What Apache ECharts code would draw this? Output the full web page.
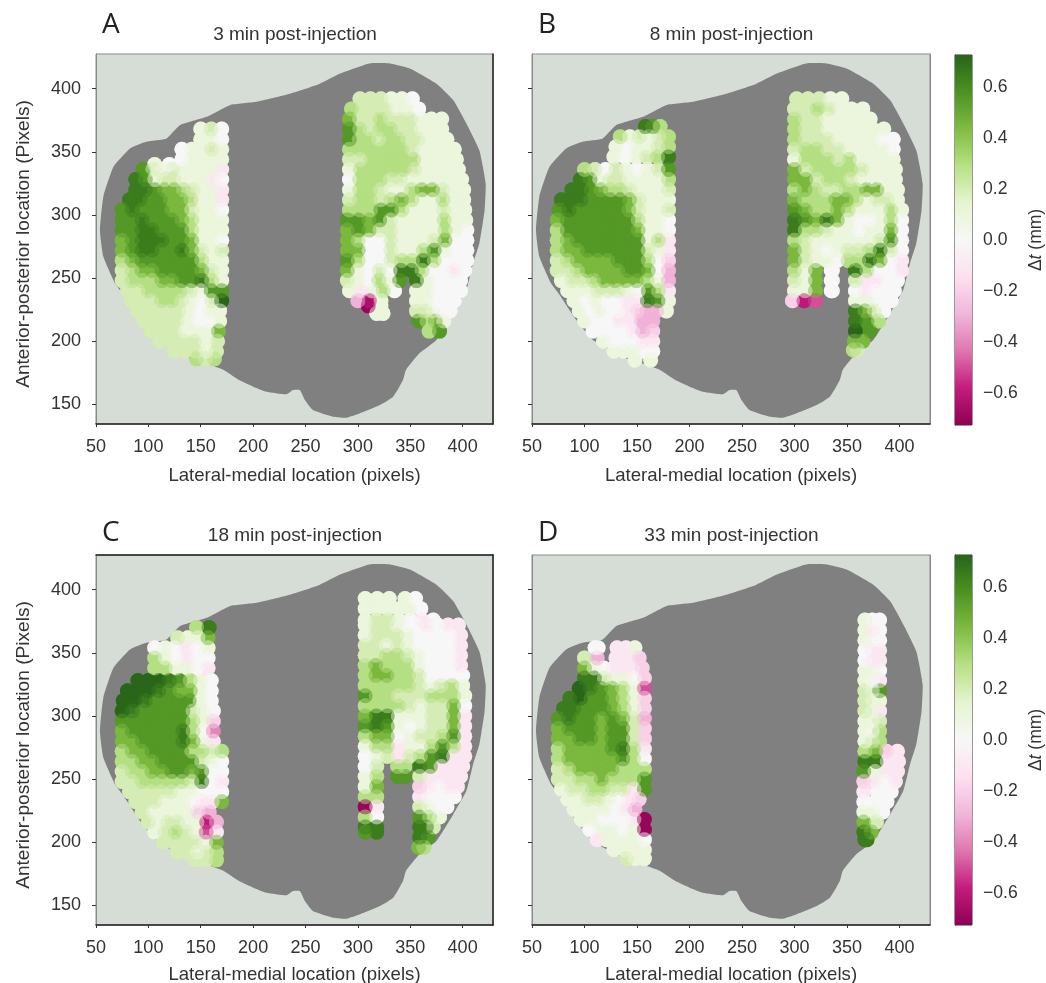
<!DOCTYPE html>
<html><head><meta charset="utf-8">
<style>html,body{margin:0;padding:0;background:#fff}#c{width:1046px;height:983px}</style>
<script src="https://cdn.jsdelivr.net/npm/echarts@6/dist/echarts.min.js"></script>
</head><body><div id="c"></div>
<script>
// Tick labels and titles
const xTicks = [50,100,150,200,250,300,350,400];
const yTicks = [150,200,250,300,350,400];
const barTicks = [-0.6,-0.4,-0.2,0,0.2,0.4,0.6];
const titles = ['3 min post-injection','8 min post-injection','18 min post-injection','33 min post-injection'];
const letters = ['A','B','C','D'];
const piyg = ['#8e0152','#c51b7d','#de77ae','#f1b6da','#fde0ef','#f7f7f7','#e6f5d0','#b8e186','#7fbc41','#4d9221','#276419'];
// Reading levels used in the rows below, from colour to mm (index 0 is level 0)
const greenLevelMm = [0,0.1,0.2,0.3,0.45,0.56,0.65,0.72];
const pinkLevelMm = [0,-0.1,-0.2,-0.3,-0.4,-0.5,-0.6,-0.7];

// Scanned outline of the head (lateral-medial, anterior-posterior)
const outline = [[263.7,404],[283,412],[311,420],[330.5,420],[349.6,416],[375,404],[391,391],[403.6,372.4],[416,351],[422,325],[421,304],[416,277.6],[410,261.8],[403.6,240.7],[391,222],[375,201],[359,190.6],[346,177.4],[343,169],[333.7,156],[321,149.4],[302,142.9],[289,139.4],[276.4,140.2],[257,145.5],[249.4,153.4],[244.6,161.3],[238,161.3],[232,158],[212.8,160],[200,164],[187,169],[171.5,177.4],[160,181],[140,186],[108,201],[92,217],[76,237],[68,246],[57,267],[53.8,288],[57,314.5],[66.6,338],[82.5,352.7],[98,358],[117.4,360.6],[130,371],[155.6,377.7],[177.9,387],[203.3,389.6],[235,396]];

// Thickness change rows: [y, first x, last x, reading levels]
const aLeft = [
[368,150,170,[1,2,0]],[360,150,170,[1,1,0]],[352,132,170,[0,1,1,2,1]],[344,132,170,[0,1,1,1,1]],[340,106,120,[1,0]],
[336,95,170,[5,2,1,2,1,1,1,1,-1]],[328,88,170,[6,5,1,2,2,1,1,1,-1,0]],[320,88,170,[6,6,5,4,4,3,2,1,1,-1]],[312,82,170,[6,6,5,5,4,4,3,1,1,-1]],
[304,75,170,[5,6,5,5,5,4,4,2,1,1,0]],[296,75,170,[5,5,6,5,5,5,4,3,1,1,1]],[288,75,170,[5,5,6,6,5,5,5,3,1,1,1]],[280,75,170,[4,5,6,6,6,5,5,4,1,1,0]],
[272,75,170,[4,5,6,6,5,5,6,4,2,1,2]],[264,75,170,[3,4,5,5,5,5,5,5,3,1,1]],[256,75,170,[2,3,4,4,5,5,5,5,4,2,1]],[248,75,170,[2,3,3,3,4,4,5,5,6,3,1]],
[240,80,170,[2,2,3,3,3,3,2,1,5,5]],[232,84,170,[2,2,2,3,3,2,1,0,2,7]],[224,90,168,[2,2,2,2,2,1,0,1,1]],[216,96,168,[2,2,2,2,1,0,0,1]],
[208,103,167,[2,2,2,1,1,1,4]],[200,111,166,[2,2,2,2,1,2]],[192,125,165,[2,2,2,1,2]],[186,146,163,[3,2,3]]
];
const aRight = [
[392,302,352,[2,2,2,1,1,0]],[384,294,358,[3,2,2,2,1,1,0]],[376,292,380,[4,2,2,3,2,2,2,1,1,1]],[368,292,380,[5,3,2,3,3,2,2,1,1,1]],
[360,292,385,[5,3,3,2,3,3,2,2,1,1,1]],[352,292,392,[3,3,3,3,3,3,2,1,1,1,1]],[344,292,394,[2,2,3,3,3,3,3,1,1,1,1]],[336,292,396,[1,3,3,3,3,3,2,1,1,1,1]],
[328,292,399,[0,3,3,3,2,2,1,1,1,1,1,1]],[320,292,401,[1,3,3,2,1,1,3,4,4,2,1,1]],[312,292,401,[2,3,3,2,3,4,3,1,1,3,1,1]],[304,292,402,[3,3,3,5,5,3,1,1,1,2,1,1]],
[296,290,403,[5,5,4,5,2,1,1,1,1,3,1,1]],[288,290,404,[4,5,4,2,2,1,1,1,1,3,1,0]],[280,290,404,[4,3,0,0,2,1,1,1,2,4,0,0]],[272,290,404,[4,4,0,0,2,1,1,3,5,1,0,0]],
[264,290,404,[5,3,0,0,2,3,3,6,3,0,0,0]],[256,290,402,[4,1,0,2,0,6,6,3,0,0,-1,0]],[248,290,340,[2,1,0,3,1,5]],[248,356,398,[6,1,0,0,0]],
[240,292,335,[1,-1,1,3,0]],[240,356,398,[1,1,0,0,0]],[232,300,322,[-3,-6,1]],[232,356,392,[1,1,0,0,0]],[228,310,322,[-7,1]],[224,356,388,[2,2,1,0,0]],
[222,318,324,[1,1]],[216,358,382,[5,3,4,1]],[208,368,378,[3,5]]
];
const bLeft = [
[370,158,172,[6,5,3]],[362,134,180,[3,1,2,1,2,3]],[354,130,180,[1,0,1,1,2,3]],[346,128,180,[1,0,1,2,3,6]],[336,100,180,[3,2,0,2,1,0,1,2,5]],
[328,96,180,[6,5,1,2,2,1,1,1,1,3]],[320,88,180,[6,6,5,4,3,3,2,1,1,1,2]],[312,78,180,[6,6,6,5,5,5,5,4,2,1,1,1]],[304,76,180,[5,6,5,5,5,5,5,4,2,1,1,2]],
[296,74,180,[4,5,5,5,5,5,5,5,3,1,1,0]],[288,74,180,[3,5,5,5,5,5,5,5,4,1,1,0]],[280,74,180,[3,4,5,5,5,5,5,5,5,1,3,-1]],[272,74,180,[3,4,4,5,5,5,5,5,5,2,1,-1]],
[264,74,180,[2,3,4,4,4,4,5,5,5,3,0,-2]],[256,74,180,[2,2,3,4,4,4,4,5,5,4,0,-3]],[248,78,180,[1,2,2,3,4,4,4,4,3,1,-3]],[240,84,180,[1,1,1,2,2,2,1,0,5,3,-1]],
[232,90,180,[1,0,1,0,0,-1,-1,6,5,1]],[224,95,178,[1,0,1,0,0,-1,-2,-3,-3,1]],[216,100,165,[1,0,0,-1,-1,-3,-3]],[208,108,165,[0,0,0,0,-1,-3,-2]],
[200,118,165,[1,0,0,0,-1,-1]],[192,128,165,[1,1,1,0,0]],[185,148,163,[1,1]]
];
const bRight = [
[392,302,345,[2,2,2,1,1]],[384,300,365,[2,2,3,2,1,1,1]],[376,300,372,[3,2,2,1,1,1,1,1]],[368,300,385,[3,2,2,1,1,1,1,1,1]],[360,300,394,[3,2,2,2,1,1,1,1,0,0]],
[352,300,394,[2,3,3,2,2,1,1,1,1,0]],[344,300,394,[1,3,3,3,2,3,1,1,1,1]],[336,300,396,[4,2,3,3,3,3,2,1,1,1]],[328,300,396,[4,4,2,3,3,2,1,1,1,1]],
[320,300,398,[3,4,3,2,2,3,3,4,4,1,1]],[312,300,398,[4,3,3,3,4,4,3,1,2,2,1]],[304,300,402,[5,4,3,3,4,3,1,1,1,3,1]],[296,300,402,[6,5,4,6,4,1,0,0,1,3,0]],
[288,300,402,[6,3,3,2,1,1,0,1,1,4,0]],[280,300,402,[3,2,1,1,1,1,1,1,2,5,0]],[272,300,402,[4,2,1,0,1,2,2,3,6,2,0]],[264,300,402,[4,2,1,1,0,3,3,6,4,0,-1]],
[256,300,320,[3,1,4]],[256,335,336,[0,0]],[256,358,402,[6,3,0,0,-1]],[248,300,320,[2,1,4]],[248,335,336,[0,0]],[248,358,398,[2,-1,-1,0,0]],
[240,300,320,[1,1,4]],[240,335,336,[0,0]],[240,358,395,[0,-1,0,0,0]],[232,298,320,[-2,-6,-5]],[232,358,392,[1,1,0,0]],[224,358,385,[6,4,2,0]],
[216,358,380,[6,5,3]],[208,358,372,[7,5]],[200,357,365,[4,4]],[193,356,360,[3,2]]
];
const cLeft = [
[370,146,158,[3,6]],[362,128,157,[2,1,1,4]],[354,106,116,[0,1]],[354,125,157,[0,-1,0,1]],[346,106,157,[3,1,0,-1,0,0]],[338,106,157,[3,3,1,1,0,-1]],
[328,90,160,[7,7,7,6,5,3,1,0]],[320,80,160,[7,7,7,6,5,4,4,1,0]],[312,76,160,[7,7,6,5,5,5,5,1,0]],[304,75,162,[7,6,5,5,5,5,5,2,1,0]],
[296,75,162,[5,5,5,5,5,5,5,3,1,-2]],[288,75,162,[4,5,5,5,5,5,6,3,0,-4]],[280,75,162,[4,4,5,5,5,5,6,4,1,-1]],[272,75,170,[3,4,4,5,5,5,5,3,3,2,3]],
[264,75,170,[3,3,4,4,5,5,5,5,2,1,0]],[256,75,170,[2,3,3,4,4,5,5,4,5,0,0]],[248,75,170,[2,2,3,3,3,3,3,2,6,0,-1]],[240,82,170,[2,2,2,2,2,1,1,0,0,0]],
[232,88,170,[2,2,2,1,1,1,0,-1,-1,4]],[224,94,158,[2,1,1,1,1,-2,-3]],[216,100,165,[2,1,2,2,1,1,-6,-3]],[208,106,165,[1,2,3,2,1,-5,-1]],
[200,114,165,[2,2,2,2,1,4]],[192,128,165,[2,2,1,2,3]],[186,145,165,[2,2,3]]
];
const cRight = [
[393,307,330,[1,1,1]],[393,345,355,[1,0]],[385,307,360,[1,1,1,1,1,0]],[376,307,372,[1,2,2,1,0,-1,0]],[372,307,396,[1,2,2,1,0,0,-1,0,-1,-1]],
[364,307,398,[1,2,2,2,1,0,0,0,0,-1]],[356,307,398,[2,2,1,2,1,0,0,0,0,-1]],[348,307,398,[2,2,3,3,2,1,0,0,0,-1]],[340,307,398,[3,4,3,3,3,1,0,0,0,-1]],
[332,307,400,[3,4,4,3,3,2,0,0,0,0]],[324,307,400,[3,3,3,3,3,2,1,2,3,1]],[316,307,402,[5,3,3,2,2,2,3,3,3,1]],[308,307,402,[3,3,3,3,2,1,2,2,4,0]],
[300,307,402,[4,6,6,1,1,1,2,2,4,-1]],[292,307,402,[5,6,5,1,0,1,2,2,4,-1]],[284,307,402,[3,4,4,0,1,2,2,3,5,-1]],[276,307,402,[1,3,3,-1,1,1,3,5,3,-1]],
[268,307,402,[0,1,2,-1,2,3,5,6,-1,-1]],[260,307,318,[0,2]],[260,338,345,[3,3]],[260,359,400,[6,5,-1,-1,-1]],[252,307,318,[1,3]],[252,338,345,[5,5]],
[252,359,398,[2,-1,-1,-1,-1]],[244,307,318,[1,4]],[244,359,395,[-2,-1,0,-1,-1]],[236,307,318,[3,3]],[236,359,392,[-1,0,0,0,0]],[228,307,318,[-7,-1]],
[228,359,385,[2,1,0,0]],[220,307,318,[3,0]],[220,359,378,[5,3,1]],[212,307,318,[6,6]],[212,359,372,[6,6,2]],[208,307,318,[5,6]],[204,359,367,[6,5]],[196,358,363,[4,3]]
];
const dLeft = [
[354,110,113,[0,0]],[354,131,148,[-1,-1,1]],[346,100,112,[2,-3]],[346,130,152,[-1,-1,-2]],[338,100,155,[4,1,0,-1,-1,-1,-2]],[330,100,157,[6,6,2,1,1,0,-2]],
[322,95,157,[7,6,5,4,3,1,-5]],[314,86,157,[6,7,5,5,4,3,1,-2]],[306,80,157,[6,6,5,5,5,4,3,1,-2]],[298,75,157,[5,6,5,5,4,5,4,2,-3]],[290,75,157,[4,5,5,5,4,5,5,2,-2]],
[282,75,157,[4,4,5,5,4,5,5,2,-2]],[274,75,157,[3,4,4,4,4,5,6,3,-1]],[266,75,157,[3,4,4,4,4,4,5,3,0]],[258,75,157,[2,3,4,4,4,4,3,3,3]],[250,75,157,[2,2,3,3,4,3,3,3,5]],
[242,78,157,[1,2,2,3,3,2,2,-1,5]],[234,84,152,[1,1,2,2,1,0,-1,-2]],[226,90,148,[1,1,1,1,0,-1,-3]],[218,97,157,[1,1,0,0,0,-1,-7]],[210,105,157,[0,1,1,0,1,-7]],
[202,112,157,[-1,1,1,1,1,0]],[194,128,157,[1,1,1,1]],[187,140,157,[2,1,1]]
];
const dRight = [
[376,367,381,[1,0,0]],[368,367,381,[1,-1,0]],[360,367,381,[1,0,0]],[352,367,381,[0,-1,-1]],[344,367,381,[0,-1,-1]],[336,367,381,[1,1,0]],[328,367,381,[1,0,-1]],
[320,367,381,[2,1,5]],[312,367,381,[2,1,1]],[304,367,381,[2,1,-1]],[296,367,381,[1,1,2]],[288,367,381,[1,0,3]],[280,367,381,[1,2,3]],[272,367,398,[3,4,-2,-1]],
[264,367,399,[6,6,-1,-1]],[256,366,398,[5,1,-1,-1]],[248,366,396,[-2,-1,0,-1]],[240,366,392,[-1,0,0]],[232,366,388,[0,0,0]],[224,366,384,[1,1,0]],
[216,366,378,[4,2]],[208,366,373,[6,4]],[202,367,369,[6,6]]
];
const panelRows = [[aLeft,aRight],[bLeft,bRight],[cLeft,cRight],[dLeft,dRight]];

const levelToMm = v => v>=0 ? greenLevelMm[v] : pinkLevelMm[-v];
const toPoints = rows => rows.flatMap(([y,x0,x1,vals]) => vals.map((v,i)=>[x0+i*(x1-x0)/Math.max(1,vals.length-1),y,levelToMm(v)]));

const FONT='Liberation Sans', TXT='#333';
const panels=[{l:96,t:54,w:397,h:370},{l:532,t:54,w:398,h:370},{l:96,t:555,w:397,h:370},{l:532,t:555,w:398,h:370}];
const bars=[{l:955,t:55,w:17,h:370},{l:955,t:555,w:17,h:370}];
const grid=[],xAxis=[],yAxis=[],series=[],title=[],scatterIdx=[];
panels.forEach((p,i)=>{
  grid.push({left:p.l,top:p.t,width:p.w,height:p.h,outerBoundsMode:'none',show:true,backgroundColor:'#d6dcd6',borderColor:'#8a8a8a',borderWidth:1});
  const labelled=i%2===0, darkRight=labelled;
  xAxis.push({type:'value',gridIndex:i,min:50,max:429,splitLine:{show:false},
    name:'Lateral-medial location (pixels)',nameLocation:'middle',nameGap:i<2?42:40,
    nameTextStyle:{fontFamily:FONT,fontSize:18.6,color:TXT},
    axisLine:{show:true,onZero:false,lineStyle:{color:'#222',width:1.5}},
    axisTick:{show:true,length:3,customValues:xTicks,lineStyle:{color:'#333'}},
    axisLabel:{customValues:xTicks,fontFamily:FONT,fontSize:18,color:TXT,margin:14}});
  yAxis.push({type:'value',gridIndex:i,min:134.4,max:427.5,splitLine:{show:false},
    name:labelled?'Anterior-posterior location (Pixels)':'',nameLocation:'middle',nameGap:63,
    nameTextStyle:{fontFamily:FONT,fontSize:19.1,color:TXT,padding:[0,10,0,0]},
    axisLine:{show:true,onZero:false,lineStyle:{color:'#8a8a8a',width:1}},
    axisTick:{show:true,length:4,customValues:yTicks,lineStyle:{color:'#333'}},
    axisLabel:{show:labelled,customValues:yTicks,fontFamily:FONT,fontSize:18,color:TXT,margin:15}});
  yAxis.push({type:'value',gridIndex:i,position:'right',min:134.4,max:427.5,splitLine:{show:false},
    axisLine:{show:true,onZero:false,lineStyle:{color:darkRight?'#222':'#8a8a8a',width:darkRight?1.5:1}},
    axisTick:{show:false},axisLabel:{show:false}});
  const yIdx=i*2;
  series.push({type:'custom',xAxisIndex:i,yAxisIndex:yIdx,silent:true,animation:false,z:2,data:outline,
    renderItem:(params,api)=>params.dataIndex!==0?null:({type:'polygon',shape:{points:outline.map(q=>api.coord(q)),smooth:0.15},style:{fill:'#808080'}})});
  panelRows[i].forEach(rows=>{
    const pts=toPoints(rows);
    scatterIdx.push(series.length);
    series.push({type:'scatter',xAxisIndex:i,yAxisIndex:yIdx,silent:true,animation:false,z:3,symbol:'circle',symbolSize:15,itemStyle:{opacity:1},data:pts,encode:{x:0,y:1}});
    // same readings painted in the opposite order, half see-through, to soften the disk edges
    scatterIdx.push(series.length);
    series.push({type:'scatter',xAxisIndex:i,yAxisIndex:yIdx,silent:true,animation:false,z:4,symbol:'circle',symbolSize:15,itemStyle:{opacity:0.5},data:pts.slice().reverse(),encode:{x:0,y:1}});
  });
  title.push({text:titles[i],left:p.l+p.w/2-1-3.5,top:p.t-34,textAlign:'center',textStyle:{fontFamily:FONT,fontSize:19,fontWeight:'normal',color:TXT}});
  title.push({text:letters[i],left:p.l+1,top:p.t-(i<2?48:41),textStyle:{fontFamily:'Open Sans',fontSize:28,fontWeight:'normal',color:'#222'}});
});
bars.forEach((b,k)=>{
  const gi=grid.length, xi=xAxis.length, yi=yAxis.length;
  grid.push({left:b.l,top:b.t,width:b.w,height:b.h,outerBoundsMode:'none',show:true,borderColor:'#333',borderWidth:1,backgroundColor:'transparent'});
  xAxis.push({type:'value',gridIndex:gi,min:0,max:1,show:false});
  yAxis.push({type:'value',gridIndex:gi,position:'right',min:-0.727,max:0.727,splitLine:{show:false},
    name:'{a|\u0394}{i|t}{a| (mm)}',nameLocation:'middle',nameGap:55,nameRotate:90,
    nameTextStyle:{rich:{a:{fontFamily:FONT,fontSize:17.5,color:TXT},i:{fontFamily:FONT,fontSize:17.5,fontStyle:'italic',color:TXT}}},
    axisLine:{show:true,lineStyle:{color:'#333'}},
    axisTick:{show:true,length:4,customValues:barTicks,lineStyle:{color:'#333'}},
    axisLabel:{customValues:barTicks,fontFamily:FONT,fontSize:17.6,color:TXT,margin:11,formatter:v=>v.toFixed(1).replace('-','\u2212')}});
  series.push({type:'custom',xAxisIndex:xi,yAxisIndex:yi,silent:true,animation:false,data:[[0,-0.727]],
    renderItem:(params,api)=>{
      const a=api.coord([0,0.727]),c=api.coord([1,-0.727]);
      return {type:'rect',shape:{x:a[0],y:a[1],width:c[0]-a[0],height:c[1]-a[1]},
        style:{fill:new echarts.graphic.LinearGradient(0,1,0,0,piyg.map((color,n)=>({offset:n/(piyg.length-1),color})))}};
    }});
});
// dark top frame of panel C
xAxis.push({type:'value',gridIndex:2,position:'top',min:50,max:429,splitLine:{show:false},
  axisLine:{show:true,onZero:false,lineStyle:{color:'#222',width:1.5}},axisTick:{show:false},axisLabel:{show:false}});
const chart=echarts.init(document.getElementById('c'),null,{renderer:'canvas'});
chart.setOption({animation:false,backgroundColor:'#fff',title,grid,xAxis,yAxis,series,
  visualMap:{show:false,type:'continuous',min:-0.727,max:0.727,dimension:2,seriesIndex:scatterIdx,inRange:{color:piyg}}});
</script></body></html>
